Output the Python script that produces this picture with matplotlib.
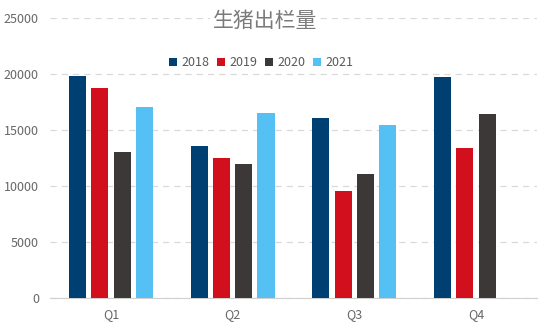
import matplotlib
matplotlib.use("Agg")
import matplotlib.pyplot as plt
import numpy as np

# ── Data ─────────────────────────────────────────────────────────────────────
quarters = ["Q1", "Q2", "Q3", "Q4"]
years = ["2018", "2019", "2020", "2021"]
v2018 = [19800, 13600, 16100, 19760]
v2019 = [18750, 12470, 9580, 13400]
v2020 = [13050, 12000, 11040, 16460]
v2021 = [17050, 16550, 15450, np.nan]
yticks = [0, 5000, 10000, 15000, 20000, 25000]

colors = ["#003f72", "#d20f1d", "#3b3837", "#55c0f3"]

plt.rcParams["font.family"] = ["Noto Sans CJK SC", "DejaVu Sans"]

fig = plt.figure(figsize=(5.5, 3.3), dpi=100)
ax = fig.add_axes([0.091, 0.097, 0.885, 0.848])

x = np.arange(len(quarters))
slot = 0.183
width = 0.14
series = [v2018, v2019, v2020, v2021]
for i, (vals, c, yr) in enumerate(zip(series, colors, years)):
    ax.bar(x + (i - 1.5) * slot, vals, width=width, color=c, label=yr, zorder=3)

ax.set_xlim(-0.5, 3.5)
ax.set_ylim(0, 25000)
ax.set_yticks(yticks)
ax.set_xticks(x)
ax.set_xticklabels(quarters)
ax.grid(axis="y", linestyle=(0, (5, 4)), color="#d9d9d9", linewidth=0.9, zorder=0)
for s in ["top", "right", "left"]:
    ax.spines[s].set_visible(False)
ax.spines["bottom"].set_color("#d0d0d0")
ax.tick_params(axis="both", length=0, colors="#666666", labelsize=9)
ax.tick_params(axis="y", pad=8)
ax.tick_params(axis="x", pad=7)

ax.text(0.441, 0.99, "生猪出栏量", transform=ax.transAxes, ha="center", va="center",
        fontsize=15, color="#7a7a7a", fontweight="light", zorder=5,
        bbox=dict(facecolor="white", edgecolor="none", pad=2))

leg = ax.legend(loc="center", bbox_to_anchor=(0.433, 0.84), ncol=4, frameon=False,
                fontsize=9, handlelength=0.7, handleheight=0.7, handletextpad=0.3,
                columnspacing=0.6, labelcolor="#595959")

fig.savefig("out.png", dpi=100)
